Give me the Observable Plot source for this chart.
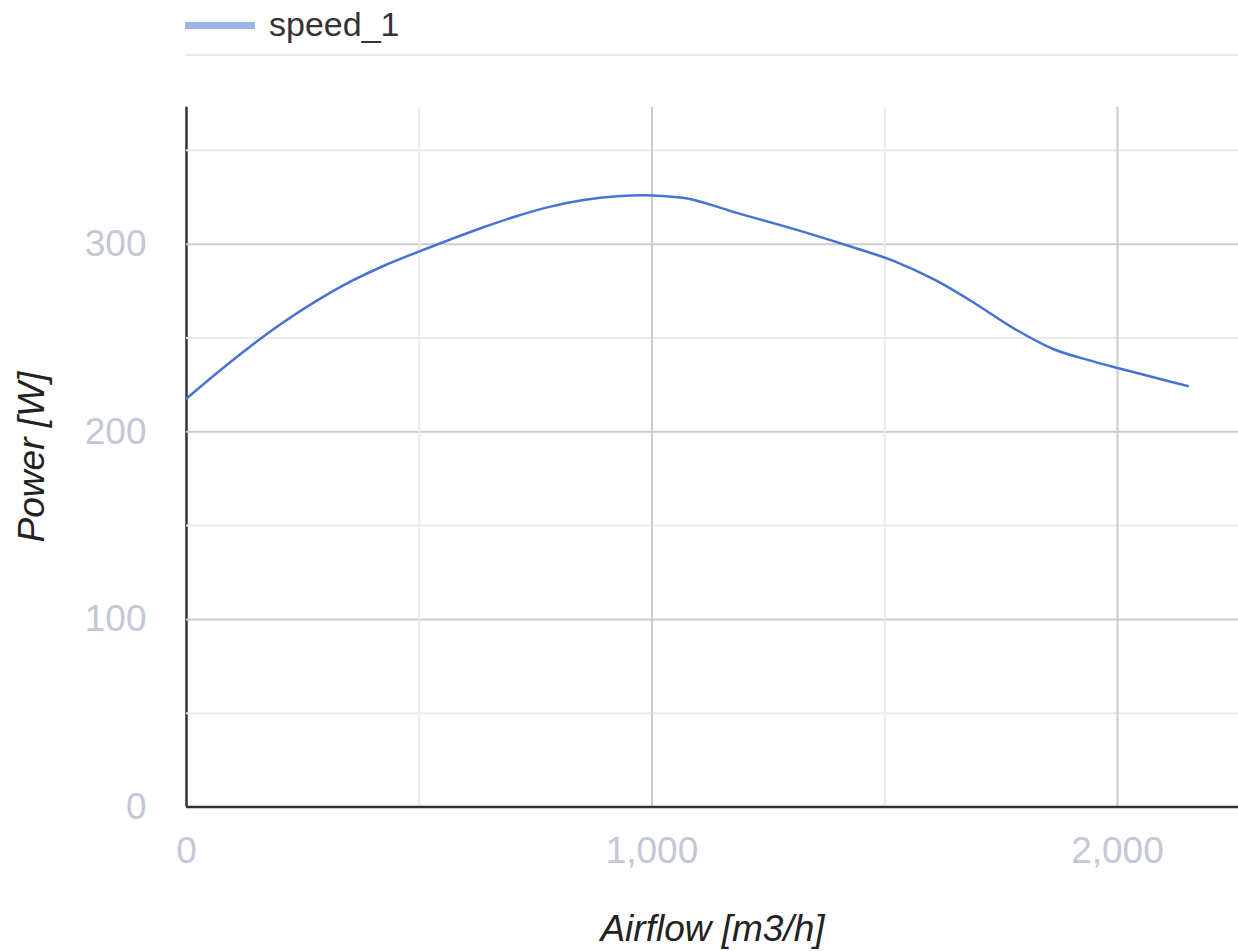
<!DOCTYPE html>
<html>
<head>
<meta charset="utf-8">
<script src="https://cdn.jsdelivr.net/npm/d3@7"></script>
<script src="https://cdn.jsdelivr.net/npm/@observablehq/plot@0.6"></script>
<style>
  html, body { margin: 0; padding: 0; background: #fff; overflow: hidden; }
  body { width: 1238px; height: 951px; font-family: "Liberation Sans", Arial, sans-serif; }
  #legend { position: relative; height: 62px; }
  #legend .swatch { position: absolute; left: 185px; top: 22px; width: 70px; height: 7px; background: #9bb5e8; }
  #legend .label { position: absolute; left: 269px; top: 7px; font-size: 34px; line-height: 34px; color: #333; }
  #legend .sep { position: absolute; left: 185px; right: 0; top: 54px; height: 2px; background: #ebebeb; }
  #chart svg { display: block; }
</style>
</head>
<body>
<div id="legend">
  <div class="swatch"></div>
  <span class="label" id="series-name"></span>
  <div class="sep"></div>
</div>
<div id="chart"></div>
<script>
const seriesName = "speed_1";
const xTitle = "Airflow [m3/h]";
const yTitle = "Power [W]";

const airflow = [0, 66, 137, 209, 281, 352, 424, 499, 567, 638, 710, 782, 853, 925, 1000, 1076, 1186, 1313, 1440, 1524, 1609, 1694, 1778, 1863, 1948, 2000, 2075, 2151];
const power = [217.7, 231.5, 245.5, 258.5, 270, 280, 288.5, 296, 302.5, 309, 315, 320, 323.5, 325.5, 326, 324.3, 316.4, 307.5, 297.7, 290.6, 280.8, 268.4, 255, 244, 237.5, 234, 229.2, 224.4];

const xMajorTicks = [0, 1000, 2000];
const xMinorTicks = [500, 1500];
const yMajorTicks = [0, 100, 200, 300];
const yMinorTicks = [50, 150, 250, 350];

document.getElementById("series-name").textContent = seriesName;

const data = airflow.map((a, i) => ({airflow: a, power: power[i]}));

const tickColor = "#c3c8d6";
const font = "Liberation Sans, Arial, sans-serif";

const chart = Plot.plot({
  width: 1238,
  height: 889,
  marginLeft: 186,
  marginRight: 0,
  marginTop: 44.7,
  marginBottom: 144.5,
  style: {fontFamily: font, fontSize: "37px", background: "white", overflow: "visible"},
  x: {domain: [0, 2260]},
  y: {domain: [0, 373]},
  marks: [
    Plot.ruleX([0], {stroke: "#333", strokeWidth: 2.5}),
    Plot.gridY(yMinorTicks, {stroke: "#ebebeb", strokeOpacity: 1, strokeWidth: 2}),
    Plot.gridY(yMajorTicks.filter(d => d > 0), {stroke: "#cccccc", strokeOpacity: 1, strokeWidth: 2}),
    Plot.gridX(xMinorTicks, {stroke: "#ebebeb", strokeOpacity: 1, strokeWidth: 2}),
    Plot.gridX(xMajorTicks.filter(d => d > 0), {stroke: "#cccccc", strokeOpacity: 1, strokeWidth: 2}),
    Plot.ruleY([0], {stroke: "#333", strokeWidth: 2.5}),
    Plot.axisY(yMajorTicks, {tickSize: 0, tickPadding: 40, fill: tickColor, label: null, fontSize: 37}),
    Plot.axisX(xMajorTicks, {tickSize: 0, tickPadding: 30, fill: tickColor, label: null, fontSize: 37}),
    Plot.line(data, {x: "airflow", y: "power", stroke: "#4573d5", strokeWidth: 2.5, curve: "catmull-rom"}),
    Plot.text([xTitle], {text: d => d, frameAnchor: "bottom", dy: 122, lineAnchor: "middle", textAnchor: "middle", fontStyle: "italic", fill: "#222", fontSize: 37}),
    Plot.text([yTitle], {text: d => d, frameAnchor: "left", dx: -154, rotate: -90, lineAnchor: "middle", textAnchor: "middle", fontStyle: "italic", fill: "#222", fontSize: 37})
  ]
});
document.getElementById("chart").appendChild(chart);
</script>
</body>
</html>
